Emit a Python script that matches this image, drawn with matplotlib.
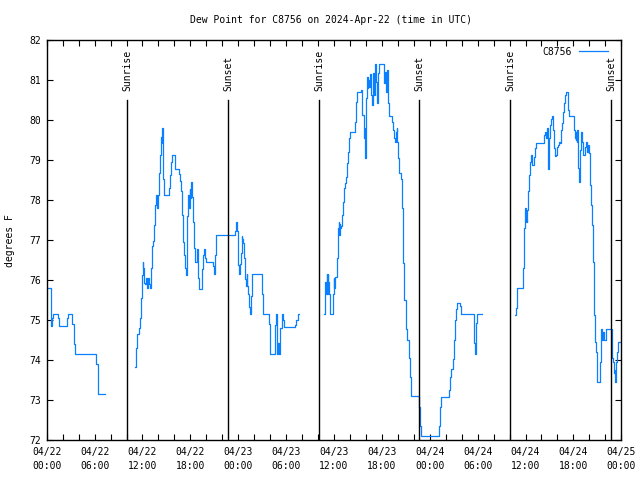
import matplotlib
matplotlib.use("Agg")
import matplotlib.pyplot as plt
import matplotlib.transforms as mtransforms
from matplotlib.ticker import MultipleLocator, FixedLocator

# ---------------- data (hours since 2024-04-22 00:00 UTC, dew point °F) ----------------
seg1_hours = [0.2, 0.54, 0.6, 0.66, 0.75, 1.42, 1.55, 2.5, 2.65, 3.21, 3.42, 3.5, 6.22, 6.39, 6.47, 7.3]
seg1_dewpt = [75.8, 75.05, 74.85, 75.05, 75.15, 75.05, 74.85, 75.05, 75.15, 74.9, 74.4, 74.15, 73.9, 73.4, 73.15, 73.15]

seg2_hours = [11.02, 11.15, 11.23, 11.36, 11.52, 11.73, 11.86, 11.98, 12.05, 12.11, 12.20, 12.35, 12.45, 12.55,
              12.70, 12.80, 12.90, 13.03, 13.15, 13.28, 13.40, 13.49, 13.61, 13.70, 13.76, 13.82, 13.86, 13.99,
              14.11, 14.24, 14.36, 14.42, 14.49, 14.53, 14.62, 14.74, 15.37, 15.49, 15.62, 15.74, 16.04, 16.12,
              16.62, 16.75, 16.87, 17.00, 17.12, 17.25, 17.37, 17.45, 17.54, 17.62, 17.75, 17.83, 17.90, 17.96,
              18.08, 18.21, 18.33, 18.46, 18.54, 18.79, 18.88, 18.96, 19.13, 19.50, 19.60, 19.75, 19.84, 19.95,
              20.84, 20.96, 21.09, 21.17, 23.60, 23.72, 23.76, 23.85, 23.93, 24.01, 24.14, 24.22, 24.35, 24.43,
              24.51, 24.64, 24.77, 24.89, 25.01, 25.06, 25.12, 25.27, 25.38, 25.48, 25.58, 25.68, 25.77, 27.02,
              27.15, 27.82, 27.94, 28.57, 28.73, 28.86, 28.99, 29.10, 29.20, 29.28, 29.44, 29.57, 29.74, 31.15,
              31.30, 31.45, 31.58]
seg2_dewpt = [73.82, 73.98, 74.31, 74.64, 74.81, 75.04, 75.54, 76.12, 76.46, 76.30, 75.92, 75.90, 76.05, 75.80,
              76.05, 75.90, 75.80, 76.31, 76.85, 76.98, 77.08, 77.38, 77.88, 78.13, 77.90, 78.13, 77.80, 78.13,
              78.67, 79.13, 79.58, 79.42, 79.81, 79.17, 78.52, 78.13, 78.29, 78.63, 78.96, 79.13, 78.96, 78.77,
              78.64, 78.48, 78.23, 77.63, 76.96, 76.63, 76.30, 76.12, 76.30, 77.60, 78.13, 77.80, 78.27, 78.04,
              78.46, 78.08, 77.46, 76.79, 76.44, 76.60, 76.77, 76.05, 75.77, 76.27, 76.63, 76.77, 76.55, 76.45,
              76.36, 76.15, 76.63, 77.13, 77.22, 77.35, 77.44, 77.22, 76.81, 76.37, 76.14, 76.39, 76.68, 77.10,
              77.02, 76.93, 76.54, 76.02, 75.85, 76.14, 75.85, 75.64, 75.33, 75.14, 75.60, 75.89, 76.15, 75.65,
              75.14, 74.89, 74.15, 74.87, 75.14, 74.15, 74.42, 74.15, 74.42, 74.79, 75.14, 75.00, 74.82, 74.87,
              75.00, 75.14, 75.14]

seg3_hours = [34.79, 34.85, 34.92, 35.04, 35.10, 35.17, 35.23, 35.29, 35.42, 35.46, 35.50, 35.84, 35.96, 36.02,
              36.09, 36.17, 36.34, 36.46, 36.55, 36.62, 36.67, 36.74, 36.80, 36.92, 37.00, 37.13, 37.26, 37.38,
              37.55, 37.67, 37.80, 37.92, 38.05, 38.68, 38.80, 38.93, 39.39, 39.47, 39.55, 39.72, 39.85, 39.90,
              39.93, 40.01, 40.14, 40.22, 40.30, 40.43, 40.56, 40.68, 40.81, 40.93, 41.06, 41.18, 41.27, 41.39,
              41.48, 41.60, 42.23, 42.35, 42.48, 42.60, 42.73, 42.85, 43.23, 43.35, 43.48, 43.61, 43.73, 43.86,
              43.94, 44.06, 44.19, 44.40, 44.52, 44.65, 44.82, 44.98, 45.19, 45.36, 45.53, 45.69, 46.69, 46.78,
              46.90, 49.20, 49.33, 49.41, 50.45, 50.58, 50.71, 50.87, 51.00, 51.12, 51.29, 51.42, 51.75, 51.88,
              53.50, 53.59, 53.67, 53.76, 53.84, 53.96, 54.51]
seg3_dewpt = [75.14, 75.64, 75.96, 75.64, 76.14, 75.64, 76.14, 75.96, 75.64, 75.30, 75.14, 75.64, 76.04, 75.79,
              76.00, 76.08, 76.56, 76.96, 77.29, 77.46, 77.13, 77.40, 77.29, 77.36, 77.63, 77.96, 78.29, 78.42,
              78.58, 78.92, 79.21, 79.54, 79.71, 79.96, 80.46, 80.71, 80.75, 80.71, 80.13, 79.54, 79.33, 79.80,
              79.06, 80.54, 81.08, 80.79, 81.00, 80.83, 81.14, 80.63, 80.38, 81.17, 80.63, 81.39, 80.96, 80.42,
              81.17, 81.39, 80.92, 81.21, 80.70, 81.25, 80.42, 80.10, 79.96, 79.75, 79.54, 79.44, 79.71, 79.79,
              79.46, 79.04, 78.67, 78.52, 77.79, 76.42, 75.50, 74.77, 74.50, 74.04, 73.58, 73.10, 72.83, 72.35,
              72.10, 72.35, 72.83, 73.08, 73.25, 73.58, 73.77, 74.02, 74.50, 75.00, 75.27, 75.43, 75.35, 75.15,
              74.92, 74.42, 74.14, 74.42, 74.92, 75.15, 75.15]

seg4_hours = [58.73, 58.81, 58.89, 58.98, 59.73, 59.85, 59.94, 60.00, 60.06, 60.12, 60.19, 60.23, 60.36, 60.48,
              60.61, 60.73, 60.86, 61.11, 61.23, 61.36, 62.36, 62.49, 62.61, 62.69, 62.82, 62.90, 62.99, 63.11,
              63.24, 63.36, 63.49, 63.61, 63.70, 63.82, 63.95, 64.07, 64.16, 64.28, 64.41, 64.53, 64.66, 64.78,
              64.91, 65.03, 65.28, 65.37, 65.49, 66.04, 66.12, 66.20, 66.29, 66.37, 66.45, 66.50, 66.62, 66.70,
              66.79, 66.91, 67.04, 67.16, 67.50, 67.62, 67.75, 67.87, 67.96, 68.08, 68.21, 68.33, 68.46, 68.58,
              68.71, 68.83, 68.96, 69.00, 69.34, 69.42, 69.50, 69.59, 69.71, 69.84, 70.13, 70.79, 70.88, 71.01,
              71.09, 71.18, 71.26, 71.34, 71.47, 71.59, 72.00]
seg4_dewpt = [75.13, 75.29, 75.63, 75.79, 76.29, 77.29, 77.79, 77.46, 77.79, 77.50, 77.46, 77.75, 78.23, 78.63,
              78.96, 79.13, 78.88, 79.08, 79.29, 79.42, 79.63, 79.71, 79.54, 79.79, 78.77, 79.04, 79.54, 79.88,
              80.02, 80.10, 79.75, 79.29, 79.10, 79.13, 79.33, 79.38, 79.46, 79.43, 79.75, 79.92, 80.21, 80.43,
              80.63, 80.71, 80.54, 80.25, 80.10, 79.92, 79.75, 79.54, 79.50, 79.71, 79.46, 79.75, 78.79, 78.46,
              79.25, 79.71, 79.46, 79.13, 79.33, 79.46, 79.21, 79.38, 79.17, 78.38, 77.88, 77.38, 76.46, 75.13,
              74.46, 74.21, 73.75, 73.46, 73.96, 74.67, 74.77, 74.50, 74.71, 74.50, 74.77, 74.50, 74.04, 73.96,
              73.67, 73.75, 73.46, 73.96, 74.21, 74.46, 74.46]

sunrise_hours = [10.10, 34.16, 58.10]
sunset_hours = [22.76, 46.69, 70.75]

xtick_hours = [0, 6, 12, 18, 24, 30, 36, 42, 48, 54, 60, 66, 72]
xtick_labels = ["04/22\n00:00", "04/22\n06:00", "04/22\n12:00", "04/22\n18:00",
                "04/23\n00:00", "04/23\n06:00", "04/23\n12:00", "04/23\n18:00",
                "04/24\n00:00", "04/24\n06:00", "04/24\n12:00", "04/24\n18:00",
                "04/25\n00:00"]
ytick_values = [72, 73, 74, 75, 76, 77, 78, 79, 80, 81, 82]

station = "C8756"
title_text = "Dew Point for C8756 on 2024-Apr-22 (time in UTC)"
ylabel_text = "degrees F"

# ---------------- drawing ----------------
FONT = "DejaVu Sans Mono"
FS = 7
LINE_COLOR = "#0a80ff"

plt.rcParams["font.family"] = FONT

fig = plt.figure(figsize=(6.4, 4.8), dpi=100)
ax = fig.add_axes([46.7 / 640, 40 / 480, 574.6 / 640, 400 / 480])

segments = [(seg1_hours, seg1_dewpt), (seg2_hours, seg2_dewpt),
            (seg3_hours, seg3_dewpt), (seg4_hours, seg4_dewpt)]
handle = None
for hrs, vals in segments:
    ln, = ax.plot(hrs, vals, drawstyle="steps-post", color=LINE_COLOR, lw=0.9)
    if handle is None:
        handle = ln

ax.set_xlim(0, 72)
ax.set_ylim(72, 82)

trans = mtransforms.blended_transform_factory(ax.transData, ax.transAxes)
for t in sunrise_hours:
    ax.axvline(t, ymin=0, ymax=0.85, color="black", lw=1.0)
    ax.text(t, 0.872, "Sunrise", transform=trans, rotation=90, ha="center", va="bottom",
            fontsize=FS, family=FONT)
for t in sunset_hours:
    ax.axvline(t, ymin=0, ymax=0.85, color="black", lw=1.0)
    ax.text(t, 0.872, "Sunset", transform=trans, rotation=90, ha="center", va="bottom",
            fontsize=FS, family=FONT)

ax.xaxis.set_major_locator(FixedLocator(xtick_hours))
ax.set_xticklabels(xtick_labels)
ax.xaxis.set_minor_locator(MultipleLocator(2))
ax.set_yticks(ytick_values)
ax.set_yticklabels([str(v) for v in ytick_values])

ax.tick_params(which="both", direction="in", top=True, right=True, length=4, width=0.8,
               labelsize=FS, color="black")
ax.tick_params(axis="x", pad=5)
ax.tick_params(axis="y", pad=4)
for lab in ax.get_xticklabels():
    lab.set_linespacing(1.45)

for sp in ax.spines.values():
    sp.set_linewidth(1.0)
    sp.set_color("black")

fig.text(331.5 / 640, 1 - 20 / 480, title_text, ha="center", va="center", fontsize=FS, family=FONT)
fig.text(10 / 640, 1 - 241 / 480, ylabel_text, ha="center", va="center", rotation=90,
         fontsize=FS, family=FONT)

ax.legend([handle], [station], loc="upper right", bbox_to_anchor=(1 - 6 / 574.6, 1.0),
          frameon=False, markerfirst=False, handlelength=3.0, fontsize=FS,
          borderaxespad=0.3, handletextpad=0.8)

fig.savefig("out.png", dpi=100)
